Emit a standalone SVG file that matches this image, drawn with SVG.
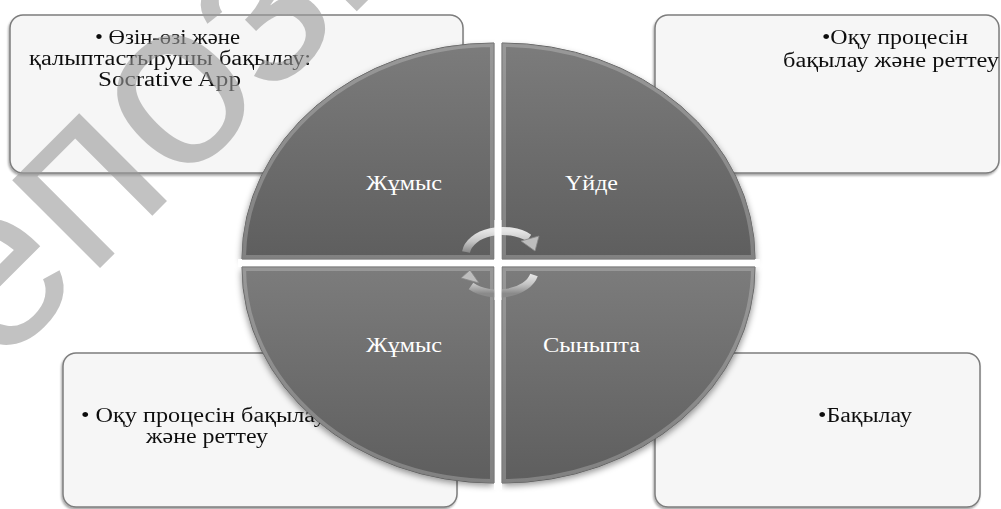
<svg xmlns="http://www.w3.org/2000/svg" width="1001" height="509" viewBox="0 0 1001 509">
<style>
.box{fill:#f6f6f6;stroke:#7d7d7d;stroke-width:1.5}
.bt{font-family:"Liberation Serif","Times New Roman",serif;font-size:20px;fill:#111}
.qt{font-family:"Liberation Serif","Times New Roman",serif;font-size:20px;fill:#fff}
.quad{fill:url(#qg);stroke:#555;stroke-width:1}
.shd{fill:#000;fill-opacity:0.4;filter:url(#blur)}
.bev{fill:none;stroke:#fff;stroke-opacity:0.22;stroke-width:8}
.wm{font-family:"Liberation Sans",Arial,sans-serif;font-size:235px;fill:#999;fill-opacity:0.6}
.arr{fill:none;stroke:url(#ag);stroke-width:8}
.ah{fill:#bdbdbd;stroke:#888;stroke-width:0.8}
</style>
<defs>
<linearGradient id="qg" x1="0" y1="0" x2="0" y2="1">
<stop offset="0" stop-color="#7c7c7c"/>
<stop offset="1" stop-color="#5e5e5e"/>
</linearGradient>
<linearGradient id="ag" x1="0" y1="0" x2="0" y2="1">
<stop offset="0" stop-color="#e6e6e6"/>
<stop offset="0.5" stop-color="#c4c4c4"/>
<stop offset="1" stop-color="#8a8a8a"/>
</linearGradient>
<filter id="blur" x="-10%" y="-10%" width="120%" height="125%">
<feGaussianBlur stdDeviation="3"/>
</filter>
<filter id="bs" x="-5%" y="-5%" width="110%" height="115%">
<feGaussianBlur in="SourceAlpha" stdDeviation="1"/>
<feOffset dx="-1" dy="1.5"/>
<feComponentTransfer><feFuncA type="linear" slope="0.35"/></feComponentTransfer>
<feMerge><feMergeNode/><feMergeNode in="SourceGraphic"/></feMerge>
</filter>
<path id="pTL" d="M494,259 L242,259 A252,216 0 0 1 494,43 Z"/>
<path id="pTR" d="M502,259 L502,43 A253,216 0 0 1 755,259 Z"/>
<path id="pBL" d="M494,267 L494,483 A252,216 0 0 1 242,267 Z"/>
<path id="pBR" d="M502,267 L755,267 A253,216 0 0 1 502,483 Z"/>
<clipPath id="cTL"><use href="#pTL"/></clipPath>
<clipPath id="cTR"><use href="#pTR"/></clipPath>
<clipPath id="cBL"><use href="#pBL"/></clipPath>
<clipPath id="cBR"><use href="#pBR"/></clipPath>
</defs>
<rect width="1001" height="509" fill="#fff"/>

<g id="box-tl" filter="url(#bs)">
<rect class="box" x="10" y="15" width="453" height="158" rx="13"/>
<text class="bt" x="95" y="44" textLength="145" lengthAdjust="spacingAndGlyphs">• Өзін-өзі және</text>
<text class="bt" x="29" y="65" textLength="282" lengthAdjust="spacingAndGlyphs">қалыптастырушы бақылау:</text>
<text class="bt" x="98" y="86" textLength="143" lengthAdjust="spacingAndGlyphs">Socrative App</text>
</g>
<g id="box-tr" filter="url(#bs)">
<rect class="box" x="655" y="15" width="344" height="158" rx="13"/>
<text class="bt" x="822" y="44" textLength="146" lengthAdjust="spacingAndGlyphs">•Оқу процесін</text>
<text class="bt" x="783" y="67" textLength="216" lengthAdjust="spacingAndGlyphs">бақылау және реттеу</text>
</g>
<g id="box-bl" filter="url(#bs)">
<rect class="box" x="63" y="353" width="394" height="154" rx="13"/>
<text class="bt" x="81" y="422" textLength="245" lengthAdjust="spacingAndGlyphs">• Оқу процесін бақылау</text>
<text class="bt" x="146" y="443" textLength="122" lengthAdjust="spacingAndGlyphs">және реттеу</text>
</g>
<g id="box-br" filter="url(#bs)">
<rect class="box" x="655" y="353" width="325" height="154" rx="13"/>
<text class="bt" x="818" y="422" textLength="94" lengthAdjust="spacingAndGlyphs">•Бақылау</text>
</g>

<g id="watermark">
<text class="wm" transform="translate(-4,372) rotate(-45)">епози</text>
</g>

<g id="shadows">
<use href="#pTL" class="shd" transform="translate(-1,3)"/>
<use href="#pTR" class="shd" transform="translate(1,3)"/>
<use href="#pBL" class="shd" transform="translate(-1,3)"/>
<use href="#pBR" class="shd" transform="translate(1,3)"/>
<rect x="494" y="40" width="8" height="450" fill="#fff"/>
<rect x="238" y="259" width="522" height="8" fill="#fff"/>
</g>

<g id="q-tl">
<use href="#pTL" class="quad"/>
<use href="#pTL" class="bev" clip-path="url(#cTL)"/>
<text class="qt" x="366" y="190" textLength="76" lengthAdjust="spacingAndGlyphs">Жұмыс</text>
</g>
<g id="q-tr">
<use href="#pTR" class="quad"/>
<use href="#pTR" class="bev" clip-path="url(#cTR)"/>
<text class="qt" x="565" y="190" textLength="53" lengthAdjust="spacingAndGlyphs">Үйде</text>
</g>
<g id="q-bl">
<use href="#pBL" class="quad"/>
<use href="#pBL" class="bev" clip-path="url(#cBL)"/>
<text class="qt" x="366" y="352" textLength="76" lengthAdjust="spacingAndGlyphs">Жұмыс</text>
</g>
<g id="q-br">
<use href="#pBR" class="quad"/>
<use href="#pBR" class="bev" clip-path="url(#cBR)"/>
<text class="qt" x="543" y="352" textLength="97" lengthAdjust="spacingAndGlyphs">Сыныпта</text>
</g>

<g id="connectors">
<path class="arr" d="M466,252 A37,24 0 0 1 529,238"/>
<polygon class="ah" points="521,241 539,236 535,251"/>
<path class="arr" d="M534,275 A37,24 0 0 1 471,286"/>
<polygon class="ah" points="479,283 461,278 470,270"/>
<rect x="494.5" y="220" width="7" height="80" fill="#fff"/>
</g>
</svg>
